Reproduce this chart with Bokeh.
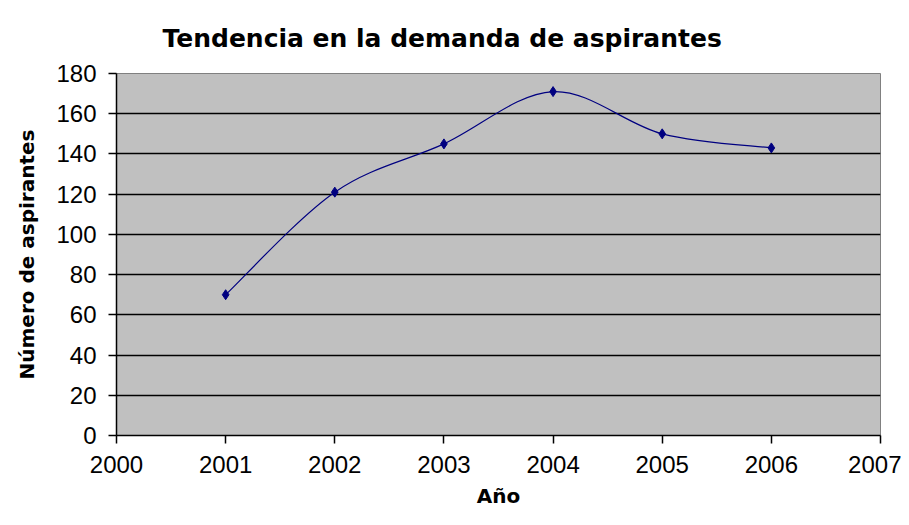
from bokeh.plotting import figure
from bokeh.models import Range1d, FixedTicker, ColumnDataSource
from bokeh.embed import file_html
from bokeh.resources import INLINE

years = [2001, 2002, 2003, 2004, 2005, 2006]
aspirantes = [70, 121, 145, 171, 150, 143]
x_ticks = [2000, 2001, 2002, 2003, 2004, 2005, 2006, 2007]
y_ticks = [0, 20, 40, 60, 80, 100, 120, 140, 160, 180]

# Excel-style smoothed line: Catmull-Rom converted to cubic Bezier segments
n = len(years)
x0, y0, x1, y1, cx0, cy0, cx1, cy1 = ([] for _ in range(8))
for i in range(n - 1):
    pm = max(i - 1, 0)
    pp = min(i + 2, n - 1)
    x0.append(years[i]); y0.append(aspirantes[i])
    x1.append(years[i + 1]); y1.append(aspirantes[i + 1])
    cx0.append(years[i] + (years[i + 1] - years[pm]) / 6)
    cy0.append(aspirantes[i] + (aspirantes[i + 1] - aspirantes[pm]) / 6)
    cx1.append(years[i + 1] - (years[pp] - years[i]) / 6)
    cy1.append(aspirantes[i + 1] - (aspirantes[pp] - aspirantes[i]) / 6)
bez = ColumnDataSource(dict(x0=x0, y0=y0, x1=x1, y1=y1, cx0=cx0, cy0=cy0, cx1=cx1, cy1=cy1))

p = figure(width=901, height=517, output_backend="svg", toolbar_location=None,
           x_range=Range1d(2000, 2007), y_range=Range1d(0, 180),
           min_border_left=116, min_border_right=21, min_border_top=73, min_border_bottom=82)
p.border_fill_color = "white"
p.background_fill_color = "#C0C0C0"
p.outline_line_color = "#808080"
p.outline_line_width = 1

p.title.text = "Tendencia en la demanda de aspirantes"
p.title.text_font = "DejaVu Sans"
p.title.text_font_style = "bold"
p.title.text_font_size = "25px"
p.title.text_color = "black"
p.title.align = "left"
p.title.offset = 46
p.title.standoff = 42

p.bezier(x0="x0", y0="y0", x1="x1", y1="y1", cx0="cx0", cy0="cy0", cx1="cx1", cy1="cy1",
         source=bez, line_color="#000080", line_width=1.2)
p.scatter(years, aspirantes, marker="diamond", size=10, fill_color="#000080", line_color="#000080")

p.xgrid.grid_line_color = None
p.ygrid.grid_line_color = "black"
p.ygrid.grid_line_width = 1.5

p.xaxis.ticker = FixedTicker(ticks=x_ticks)
p.yaxis.ticker = FixedTicker(ticks=y_ticks)
for ax in (p.xaxis[0], p.yaxis[0]):
    ax.axis_line_color = "black"
    ax.axis_line_width = 1.5
    ax.major_tick_line_color = "black"
    ax.major_tick_line_width = 1.5
    ax.major_tick_out = 8
    ax.major_tick_in = 0
    ax.minor_tick_line_color = None
    ax.major_label_text_font = "Liberation Sans"
    ax.major_label_text_font_size = "24px"
    ax.major_label_text_color = "black"
    ax.axis_label_text_font = "DejaVu Sans"
    ax.axis_label_text_font_style = "bold"
    ax.axis_label_text_font_size = "20px"
    ax.axis_label_text_color = "black"
p.xaxis.axis_label = "Año"
p.yaxis.axis_label = "Número de aspirantes"
p.xaxis.major_label_standoff = 12
p.yaxis.major_label_standoff = 12
p.xaxis.axis_label_standoff = 8
p.yaxis.axis_label_standoff = 14

open("out.html", "w").write(file_html(p, INLINE))
